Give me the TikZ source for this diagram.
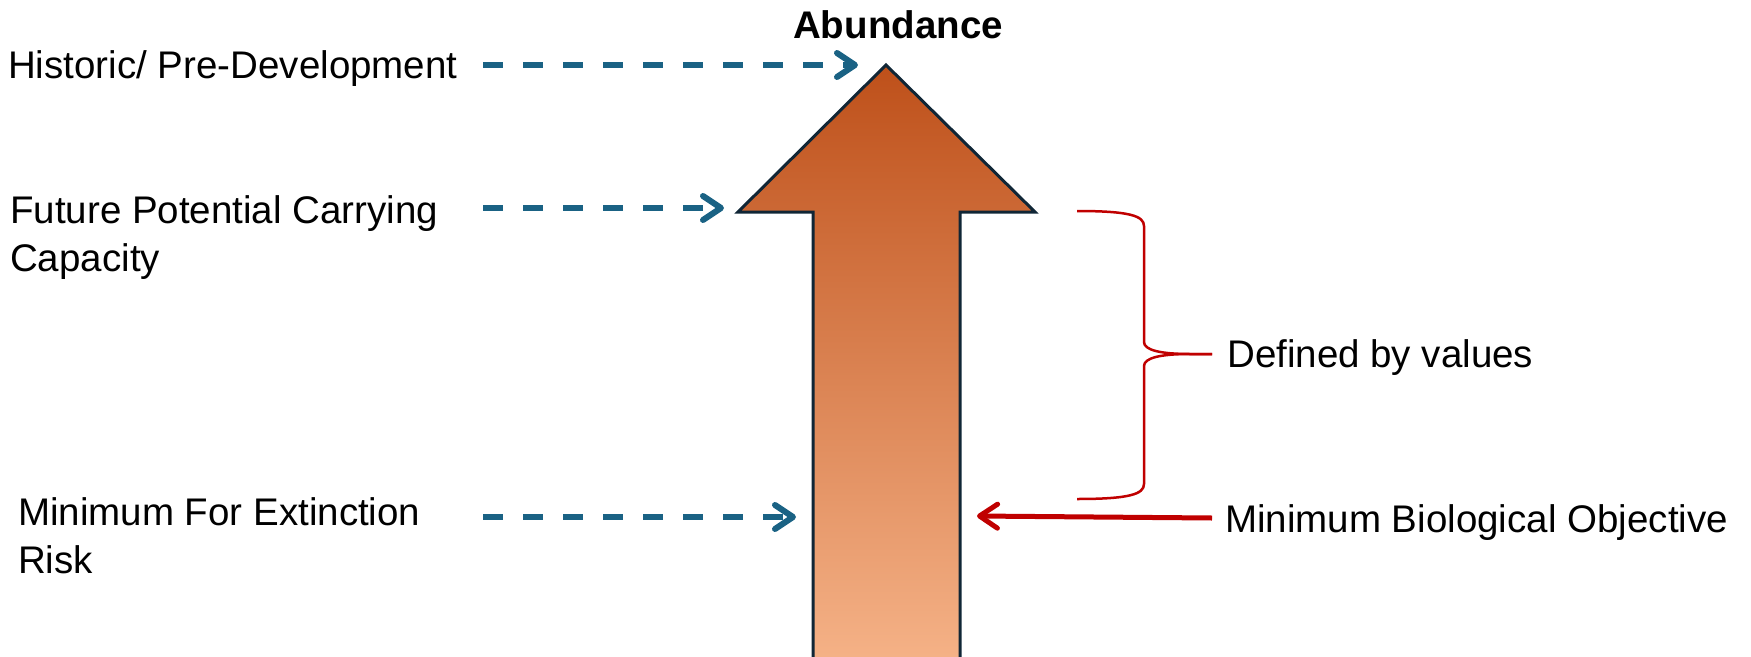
\documentclass[tikz,border=0pt]{standalone}
\usepackage{fontspec}
\setmainfont{Liberation Sans}
\usetikzlibrary{arrows.meta}
\definecolor{arrtop}{RGB}{190,80,26}
\definecolor{arrbot}{RGB}{245,178,135}
\definecolor{outl}{RGB}{16,38,54}
\definecolor{dblue}{RGB}{26,98,132}
\definecolor{dred}{RGB}{192,0,0}
\begin{document}
\begin{tikzpicture}[x=1pt,y=-1pt,
  lbl/.style={font=\fontsize{38.5}{48}\selectfont, inner sep=0pt, text=black},
  dasharrow/.style={draw=dblue, line width=6pt, dash pattern=on 20pt off 20pt, -{Straight Barb[length=18pt,width=24pt,round]}},
  redarrow/.style={draw=dred, line width=5pt, -{Straight Barb[length=18pt,width=24pt,round]}},
  bracestyle/.style={draw=dred, line width=2.5pt, line join=round},
  bigarrow/.style={draw=outl, line width=3pt, line join=miter, top color=arrtop, bottom color=arrbot}]
\useasboundingbox (0,0) rectangle (1751,656);

% big arrow key points
\coordinate (tip) at (886,65);
\coordinate (hl) at (738,212);
\coordinate (hr) at (1035,212);
\coordinate (sl) at (813,212);
\coordinate (sr) at (960,212);
\coordinate (bl) at (813,662);
\coordinate (br) at (960,662);
\path[bigarrow] (tip) -- (hr) -- (sr) -- (br) -- (bl) -- (sl) -- (hl) -- cycle;

% labels
\node[lbl, anchor=base] (abund) at (898,38) {\bfseries Abundance};
\node[lbl, anchor=base west] (hist) at (8,78) {Historic/ Pre-Development};
\node[lbl, anchor=north west, align=left] (fut) at (10,195) {Future Potential Carrying\\Capacity};
\node[lbl, anchor=north west, align=left] (minx) at (18,497) {Minimum For Extinction\\Risk};
\node[lbl, anchor=base west] (defv) at (1227,367) {Defined by values};
\node[lbl, anchor=base west] (minb) at (1225,532) {Minimum Biological Objective};

% connector end points
\coordinate (a1s) at (483,65);
\coordinate (a1e) at (858,65);
\coordinate (a2s) at (483,208);
\coordinate (a2e) at (724,208);
\coordinate (a3s) at (483,517);
\coordinate (a3e) at (796,517);
\coordinate (rs) at (1212,518);
\coordinate (re) at (977,516);

\draw[dasharrow] (a1s) -- (a1e);
\draw[dasharrow] (a2s) -- (a2e);
\draw[dasharrow] (a3s) -- (a3e);
\draw[redarrow] (rs) -- (re);

% brace
\coordinate (btop) at (1077,211);
\coordinate (bmid) at (1212,354);
\coordinate (bbot) at (1077,499);
\draw[bracestyle] (btop) .. controls (1130,211) and (1144,216) .. (1144,226) -- (1144,342)
  .. controls (1144,350) and (1160,354) .. (1190,354) -- (bmid);
\draw[bracestyle] (bmid) -- (1190,354) .. controls (1160,354) and (1144,358) .. (1144,366)
  -- (1144,484) .. controls (1144,494) and (1130,499) .. (bbot);
\end{tikzpicture}
\end{document}
